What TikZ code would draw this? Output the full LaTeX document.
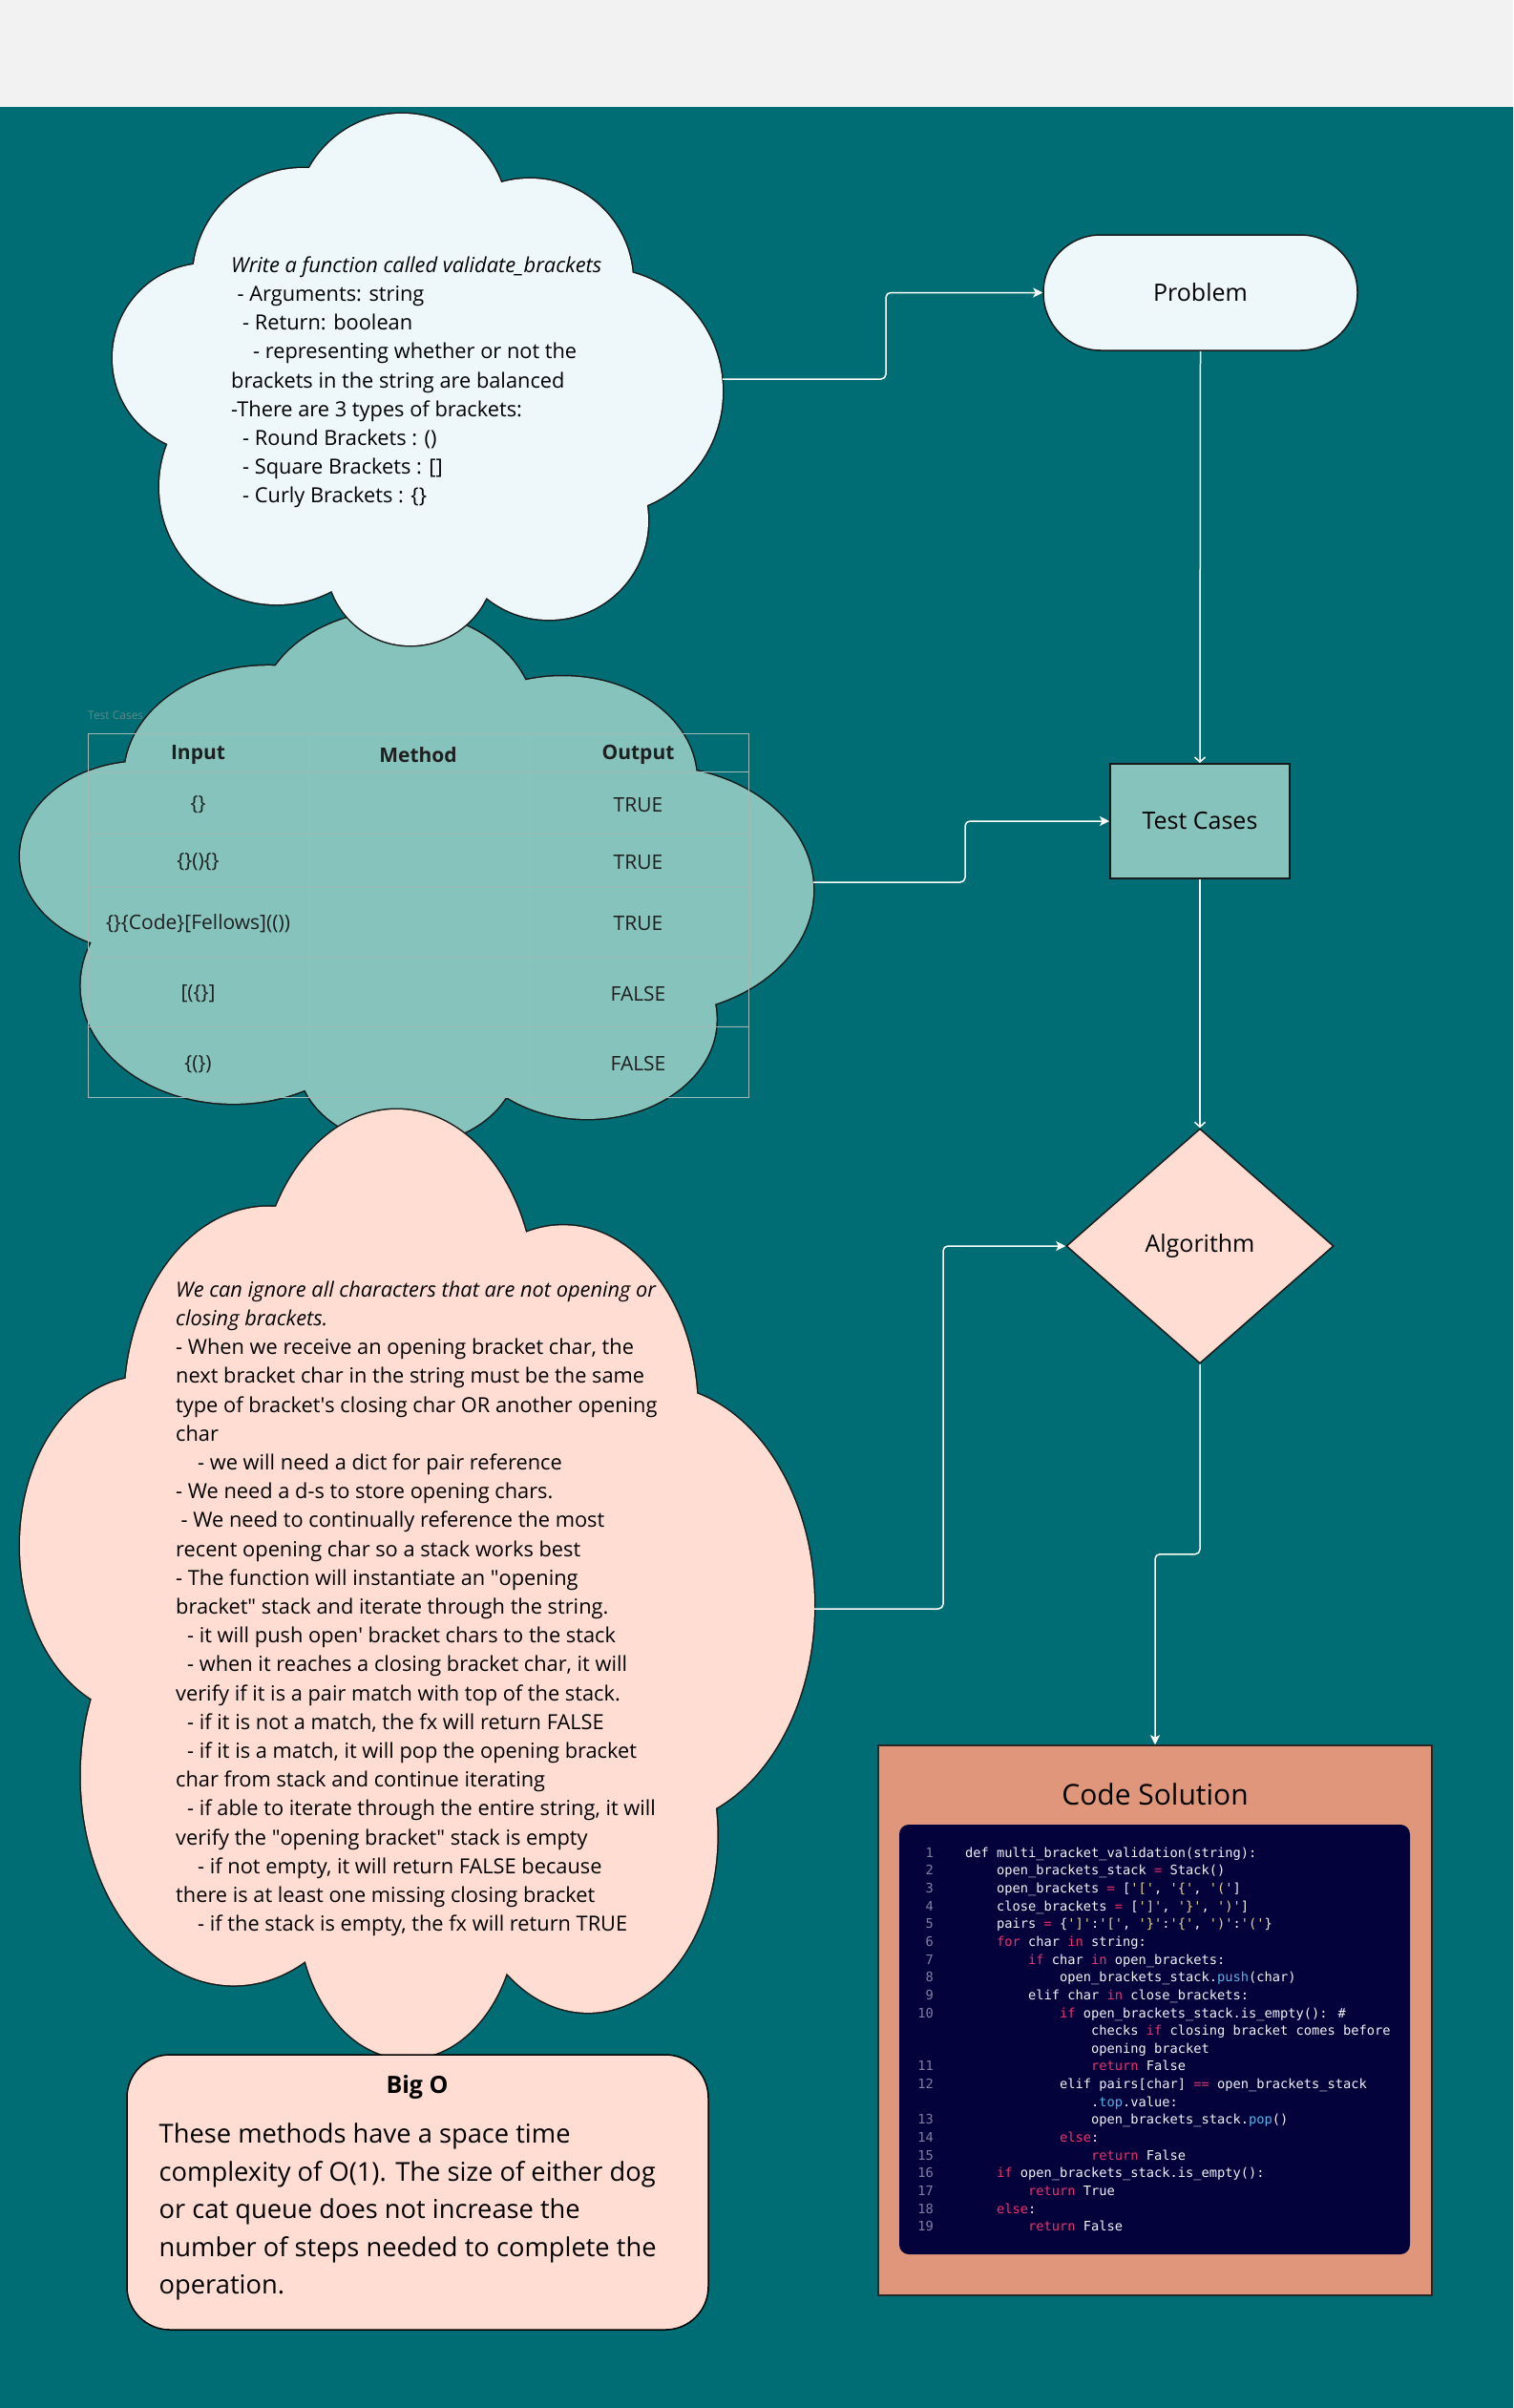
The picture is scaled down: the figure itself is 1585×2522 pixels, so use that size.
\documentclass[tikz,border=0pt]{standalone}
\usepackage{fontspec}
\setmainfont{Open Sans}
\newfontfamily\codefont{DejaVu Sans Mono}
\usetikzlibrary{arrows.meta,shapes.geometric}
\definecolor{bgteal}{HTML}{006D74}
\definecolor{graytop}{HTML}{F2F2F2}
\definecolor{cloudA}{HTML}{EEF7FA}
\definecolor{cloudB}{HTML}{86C3BC}
\definecolor{cloudC}{HTML}{FFDDD3}
\definecolor{codeboxc}{HTML}{E0967A}
\definecolor{codebg}{HTML}{04023A}
\definecolor{kwpink}{HTML}{E8336E}
\definecolor{stryel}{HTML}{E6D38A}
\definecolor{mtblue}{HTML}{4FB3E8}
\definecolor{lnumc}{HTML}{8080A0}
\definecolor{codetxt}{HTML}{F2F2F7}
\definecolor{gridc}{HTML}{A3B9B7}
\definecolor{faintc}{HTML}{5E8886}
\newcommand\myq{\textquotesingle}
\newcommand\mydq{\textquotedbl}
\newcommand\kw[1]{\textcolor{kwpink}{#1}}
\newcommand\st[1]{\textcolor{stryel}{#1}}
\newcommand\mt[1]{\textcolor{mtblue}{#1}}
\newcommand\ci[1]{\hspace*{\dimexpr #1\dimexpr 8.25pt\relax\relax}}
\newcommand\cloudcircles{(217,375) circle[radius=99] (318,292) circle[radius=116] (421,230) circle[radius=111] (555,295) circle[radius=108] (628,410) circle[radius=129] (575,545) circle[radius=104] (430,588) circle[radius=88] (290,510) circle[radius=123]}
\newcommand\cloudpoly{(217,375) -- (318,292) -- (421,230) -- (555,295) -- (628,410) -- (575,545) -- (430,588) -- (290,510) -- cycle}
\newcommand\drawcloud[5]{%
  \begin{scope}[shift={(#1,#2)}, xscale=#3, yscale=#4, shift={(-118,-119)}]
    \draw[line width=3pt, black!90] \cloudcircles;
    \fill[#5] \cloudcircles;
    \fill[#5] \cloudpoly;
  \end{scope}}
\begin{document}
\begin{tikzpicture}[x=1pt,y=-1pt,
  conn/.style={draw=white, line width=1.5pt, rounded corners=5pt},
  filltip/.style={-{Stealth[length=10pt,width=10pt,inset=2.5pt]}},
  opentip/.style={-{Straight Barb[length=5pt,width=11pt]}},
  shapetext/.style={font=\fontsize{25}{30}\selectfont, text=black},
  cloudtext/.style={font=\fontsize{21.8}{30.2}\selectfont, align=left, inner sep=0pt, anchor=north west, text=black},
  tcell/.style={font=\fontsize{21}{25}\selectfont, text=black!88, inner sep=0pt},
  thead/.style={tcell, font=\fontsize{21}{25}\selectfont\bfseries},
  codetext/.style={font=\fontsize{13.7}{18.64}\selectfont\codefont, inner sep=0pt, text=codetxt}]
\useasboundingbox (0,0) rectangle (1585,2522);
\fill[graytop] (0,0) rectangle (1585,112);
\fill[bgteal] (0,112) rectangle (1585,2522);

% clouds (test cases first, then problem, then algorithm)
\drawcloud{21}{640}{1.3005}{1.0036}{cloudB}
\drawcloud{118}{119}{1}{1}{cloudA}
\drawcloud{21}{1162}{1.302}{1.7846}{cloudC}
\node[inner sep=0pt, minimum width=639pt, minimum height=557pt] (probcloud) at (437.5,397.5) {};
\node[inner sep=0pt, minimum width=831pt, minimum height=559pt] (tccloud) at (436.5,919.5) {};
\node[inner sep=0pt, minimum width=832pt, minimum height=994pt] (algcloud) at (437,1659) {};
\coordinate (c1out) at (757,397);
\coordinate (c2out) at (852,924);
\coordinate (c3out) at (853,1685);

% problem statement text
\node[cloudtext] (probtext) at (242,264) {\strut\textit{Write a function called validate\_brackets}\\
\hspace*{6.5pt}- Arguments: string\\
\hspace*{12pt}- Return: boolean\\
\hspace*{23pt}- representing whether or not the\\
brackets in the string are balanced\\
-There are 3 types of brackets:\\
\hspace*{12pt}- Round Brackets : ()\\
\hspace*{12pt}- Square Brackets : []\\
\hspace*{12pt}- Curly Brackets : \{\}};

% test case table
\node[font=\fontsize{12}{14}\selectfont, text=faintc, anchor=west, inner sep=0pt] (tclabel) at (92,749) {Test Cases};
\draw[gridc, line width=1pt] (92,768.5) rectangle (784,1149);
\foreach \yy in {808.7,873,929,1002,1075.6} \draw[gridc, line width=1pt] (92,\yy) -- (784,\yy);
\foreach \xx in {323,553} \draw[gridc, line width=1pt] (\xx,768.5) -- (\xx,1149);
\node[thead] (th1) at (207.5,790.6) {Input};
\node[thead] (th2) at (438,790.6) {Method};
\node[thead] (th3) at (668.5,790.6) {Output};
\node[tcell] (in1) at (207.5,843) {\{\}};
\node[tcell] (out1) at (668.5,843) {TRUE};
\node[tcell] (in2) at (207.5,903) {\{\}()\{\}};
\node[tcell] (out2) at (668.5,903) {TRUE};
\node[tcell] (in3) at (207.5,967.5) {\{\}\{Code\}[Fellows](())};
\node[tcell] (out3) at (668.5,967.5) {TRUE};
\node[tcell] (in4) at (207.5,1041) {[(\{\}]};
\node[tcell] (out4) at (668.5,1041) {FALSE};
\node[tcell] (in5) at (207.5,1114.3) {\{(\})};
\node[tcell] (out5) at (668.5,1114.3) {FALSE};

% algorithm text
\node[cloudtext] (algtext) at (184,1337) {\strut\textit{We can ignore all characters that are not opening or}\\
\textit{closing brackets.}\\
- When we receive an opening bracket char, the\\
next bracket char in the string must be the same\\
type of bracket\myq s closing char OR another opening\\
char\\
\hspace*{23pt}- we will need a dict for pair reference\\
- We need a d-s to store opening chars.\\
\hspace*{5.5pt}- We need to continually reference the most\\
recent opening char so a stack works best\\
- The function will instantiate an \mydq opening\\
bracket\mydq{} stack and iterate through the string.\\
\hspace*{12pt}- it will push open\myq{} bracket chars to the stack\\
\hspace*{12pt}- when it reaches a closing bracket char, it will\\
verify if it is a pair match with top of the stack.\\
\hspace*{12pt}- if it is not a match, the fx will return FALSE\\
\hspace*{12pt}- if it is a match, it will pop the opening bracket\\
char from stack and continue iterating\\
\hspace*{12pt}- if able to iterate through the entire string, it will\\
verify the \mydq opening bracket\mydq{} stack is empty\\
\hspace*{23pt}- if not empty, it will return FALSE because\\
there is at least one missing closing bracket\\
\hspace*{23pt}- if the stack is empty, the fx will return TRUE};

% Big O
\node[draw=black, line width=1.5pt, fill=cloudC, rounded corners=45pt, minimum width=609pt, minimum height=288pt, inner sep=0pt] (bigo) at (437.5,2296) {};
\node[font=\fontsize{25}{30}\selectfont\bfseries, text=black, inner sep=0pt] (bigotitle) at (437,2186) {Big O};
\node[font=\fontsize{27.3}{39.5}\selectfont, align=left, inner sep=0pt, anchor=north west, text=black] (bigotext) at (166.5,2217) {\strut These methods have a space time\\
complexity of O(1). The size of either dog\\
or cat queue does not increase the\\
number of steps needed to complete the\\
operation.};

% flowchart shapes
\node[draw=black!90, line width=1.5pt, fill=cloudA, rounded corners=60pt, minimum width=329pt, minimum height=121pt, shapetext] (problem) at (1257.5,306.5) {Problem};
\node[draw=black!90, line width=2pt, fill=cloudB, minimum width=188pt, minimum height=120pt, shapetext] (tests) at (1257,860) {Test Cases};
\node[diamond, draw=black!90, line width=1.5pt, fill=cloudC, minimum width=280pt, minimum height=246pt, inner sep=0pt, shapetext] (algo) at (1257,1305) {Algorithm};

% code solution
\node[draw=black!85, line width=1.5pt, fill=codeboxc, minimum width=580pt, minimum height=576pt, inner sep=0pt] (codebox) at (1210,2116) {};
\node[font=\fontsize{30}{36}\selectfont, text=black, inner sep=0pt] (codetitle) at (1210,1879) {Code Solution};
\node[fill=codebg, rounded corners=10pt, minimum width=535pt, minimum height=450pt, inner sep=0pt] (codepanel) at (1209.5,2136) {};
\node[codetext, text=lnumc, align=right, anchor=north east] (lnums) at (978,1932) {\strut 1\\2\\3\\4\\5\\6\\7\\8\\9\\10\\\mbox{}\\\mbox{}\\11\\12\\\mbox{}\\13\\14\\15\\16\\17\\18\\19};
\node[codetext, align=left, anchor=north west] (code) at (1011,1932) {\strut def multi\_bracket\_validation(string):\\
\ci{4}open\_brackets\_stack \kw{=} Stack()\\
\ci{4}open\_brackets \kw{=} [\st{\myq[\myq}, \st{\myq\{\myq}, \st{\myq(\myq}]\\
\ci{4}close\_brackets \kw{=} [\st{\myq]\myq}, \st{\myq\}\myq}, \st{\myq)\myq}]\\
\ci{4}pairs \kw{=} \{\st{\myq]\myq}:\st{\myq[\myq}, \st{\myq\}\myq}:\st{\myq\{\myq}, \st{\myq)\myq}:\st{\myq(\myq}\}\\
\ci{4}\kw{for} char \kw{in} string:\\
\ci{8}\kw{if} char \kw{in} open\_brackets:\\
\ci{12}open\_brackets\_stack.\mt{push}(char)\\
\ci{8}elif char \kw{in} close\_brackets:\\
\ci{12}\kw{if} open\_brackets\_stack.is\_empty(): \#\\
\ci{16}checks \kw{if} closing bracket comes before\\
\ci{16}opening bracket\\
\ci{16}\kw{return} False\\
\ci{12}elif pairs[char] \kw{==} open\_brackets\_stack\\
\ci{16}.\mt{top}.value:\\
\ci{16}open\_brackets\_stack.\mt{pop}()\\
\ci{12}\kw{else}:\\
\ci{16}\kw{return} False\\
\ci{4}\kw{if} open\_brackets\_stack.is\_empty():\\
\ci{8}\kw{return} True\\
\ci{4}\kw{else}:\\
\ci{8}\kw{return} False};

% connectors
\draw[conn, filltip] (c1out) -- ++(171,0) |- (problem.west);
\draw[conn, opentip] (problem.south) -- (tests.north);
\draw[conn, filltip] (c2out) -- ++(159,0) |- (tests.west);
\draw[conn, opentip] (tests.south) -- (algo.north);
\draw[conn, filltip] (c3out) -- ++(135,0) |- (algo.west);
\draw[conn, filltip] (algo.south) -- ++(0,199) -| (codebox.north);
\end{tikzpicture}
\end{document}
